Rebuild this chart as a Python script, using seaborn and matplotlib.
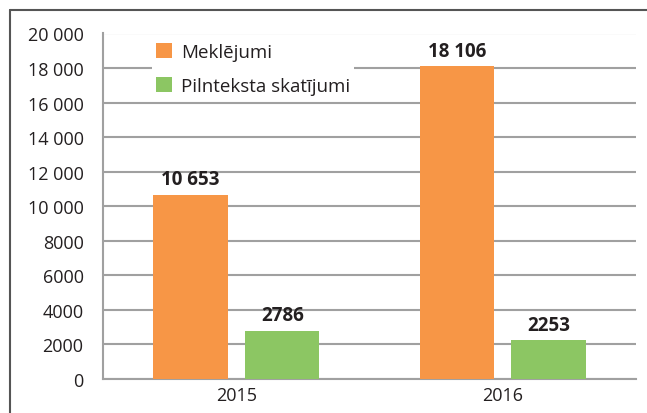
import matplotlib
matplotlib.use("Agg")
import matplotlib.pyplot as plt
from matplotlib.lines import Line2D
import seaborn as sns
import pandas as pd

years = ["2015", "2016"]
series_names = ["Meklējumi", "Pilnteksta skatījumi"]
meklejumi = [10653, 18106]
pilnteksta = [2786, 2253]
y_ticks = [0, 2000, 4000, 6000, 8000, 10000, 12000, 14000, 16000, 18000, 20000]

colors = ["#F79646", "#8CC663"]

def fmt(v):
    s = f"{int(v)}"
    if v >= 10000:
        s = f"{int(v):,}".replace(",", " ")
    return s

df = pd.DataFrame({
    "year": years * 2,
    "series": [series_names[0]] * 2 + [series_names[1]] * 2,
    "value": meklejumi + pilnteksta,
})

sns.set_theme(style="white")
plt.rcParams['font.family'] = ['Open Sans', 'DejaVu Sans']

fig = plt.figure(figsize=(6.47, 4.14), dpi=100)
ax = fig.add_axes([103/647, 1-380/414, (636-103)/647, (380-34.5)/414])

sns.barplot(data=df, x="year", y="value", hue="series", palette=colors,
            width=0.69, gap=0.19, saturation=1, ax=ax, zorder=3, linewidth=0)

ax.set_ylim(0, 20000)
ax.set_xlim(-0.5, 1.5)
ax.set_yticks(y_ticks)
ax.set_yticklabels([fmt(t) for t in y_ticks], fontsize=13, color="#231F20")
ax.tick_params(axis="x", labelsize=13, colors="#231F20", length=0, pad=5)
ax.tick_params(axis="y", length=0, pad=14)
ax.set_xlabel("")
ax.set_ylabel("")
ax.yaxis.grid(True, color="#A0A0A0", linewidth=1.5, zorder=0)
ax.set_axisbelow(True)
for s in ["top", "right"]:
    ax.spines[s].set_visible(False)
for s in ["left", "bottom"]:
    ax.spines[s].set_color("#A0A0A0")
    ax.spines[s].set_linewidth(1.5)

for cont in ax.containers:
    labels = [fmt(v) for v in cont.datavalues]
    ax.bar_label(cont, labels=labels, padding=4, fontsize=13.5, fontweight="bold", color="#231F20")

handles, labs = ax.get_legend_handles_labels()
leg = ax.legend(handles, labs, loc="upper left", bbox_to_anchor=(152/647, 1-40/414),
                bbox_transform=fig.transFigure, frameon=True, fancybox=False,
                facecolor="white", edgecolor="none", framealpha=1,
                fontsize=13.5, handlelength=0.85, handleheight=0.85, handletextpad=0.5,
                labelspacing=0.85, borderpad=0.2, borderaxespad=0)
for t in leg.get_texts():
    t.set_color("#231F20")

# outer frame
fig.add_artist(Line2D([10/647, 10/647], [0, 1-11/414], transform=fig.transFigure, color="#555555", linewidth=1.5))
fig.add_artist(Line2D([10/647, 1], [1-11/414, 1-11/414], transform=fig.transFigure, color="#555555", linewidth=1.5))

fig.savefig("out.png", dpi=100)
